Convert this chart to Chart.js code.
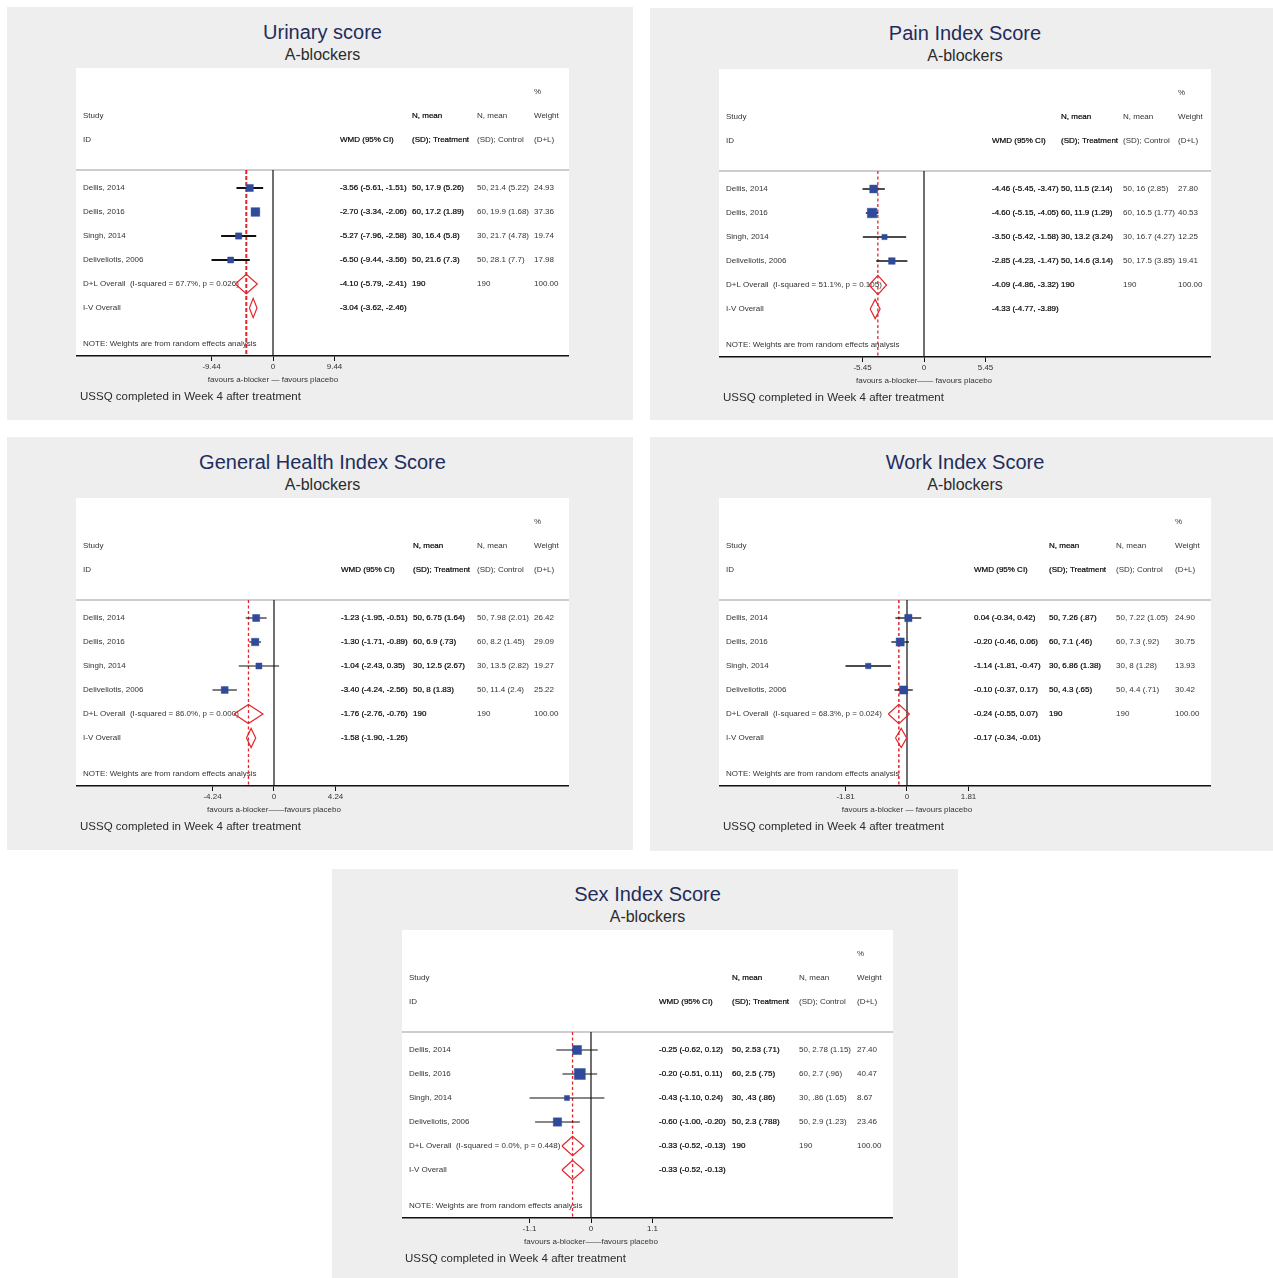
<!DOCTYPE html>
<html>
<head>
<meta charset="utf-8">
<title>USSQ forest plots</title>
<script src="https://cdn.jsdelivr.net/npm/chart.js@4.4.1/dist/chart.umd.min.js"></script>
<style>
  html, body { margin: 0; padding: 0; background: #fff; overflow: hidden; }
  body { position: relative; width: 1273px; height: 1278px; font-family: "Liberation Sans", Arial, sans-serif; }
  .panel { position: absolute; background: #eeeeee; overflow: hidden; }
  .panel h1 { position: absolute; left: 0; right: 0; top: 13px; margin: 0; font-size: 20px; line-height: 24px;
              font-weight: normal; color: #1f2d5c; text-align: center; }
  .panel h2 { position: absolute; left: 0; right: 0; top: 38px; margin: 0; font-size: 16px; line-height: 20px;
              font-weight: normal; color: #2b2b2b; text-align: center; }
  .panel.narrow h1, .panel.narrow h2 { left: 5px; }
  .panel canvas { position: absolute; left: 69px; top: 61px; }
  .panel p { position: absolute; left: 73px; top: 382px; margin: 0; font-size: 11.5px; line-height: 14px; color: #2b2b2b; }
</style>
</head>
<body>

<div class="panel narrow" style="left:7px;top:7px;width:626px;height:413px">
  <h1>Urinary score</h1>
  <h2>A-blockers</h2>
  <canvas id="urinary" width="493" height="328"></canvas>
  <p>USSQ completed in Week 4 after treatment</p>
</div>

<div class="panel" style="left:650px;top:8px;width:630px;height:412px">
  <h1>Pain Index Score</h1>
  <h2>A-blockers</h2>
  <canvas id="pain" width="492" height="328"></canvas>
  <p>USSQ completed in Week 4 after treatment</p>
</div>

<div class="panel narrow" style="left:7px;top:437px;width:626px;height:413px">
  <h1>General Health Index Score</h1>
  <h2>A-blockers</h2>
  <canvas id="general" width="493" height="328"></canvas>
  <p>USSQ completed in Week 4 after treatment</p>
</div>

<div class="panel" style="left:650px;top:437px;width:630px;height:414px">
  <h1>Work Index Score</h1>
  <h2>A-blockers</h2>
  <canvas id="work" width="492" height="328"></canvas>
  <p>USSQ completed in Week 4 after treatment</p>
</div>

<div class="panel narrow" style="left:332px;top:869px;width:626px;height:413px">
  <h1>Sex Index Score</h1>
  <h2>A-blockers</h2>
  <canvas id="sex" width="491" height="328" style="left:70px"></canvas>
  <p>USSQ completed in Week 4 after treatment</p>
</div>

<script>
// studies in every meta-analysis
const studies = ['Dellis, 2014', 'Dellis, 2016', 'Singh, 2014', 'Deliveliotis, 2006'];
const sampleSizes = [50, 60, 30, 50];
const pooledWeight = 100;

// Urinary score
const urinaryWmd = [-3.56, -2.70, -5.27, -6.50];
const urinaryLow = [-5.61, -3.34, -7.96, -9.44];
const urinaryHigh = [-1.51, -2.06, -2.58, -3.56];
const urinaryTreatment = ['17.9 (5.26)', '17.2 (1.89)', '16.4 (5.8)', '21.6 (7.3)'];
const urinaryControl = ['21.4 (5.22)', '19.9 (1.68)', '21.7 (4.78)', '28.1 (7.7)'];
const urinaryWeight = [24.93, 37.36, 19.74, 17.98];
const urinaryDL = [-4.10, -5.79, -2.41];
const urinaryIV = [-3.04, -3.62, -2.46];
const urinaryHet = [67.7, 0.026];
const urinaryTicks = [-9.44, 0, 9.44];

// Pain index
const painWmd = [-4.46, -4.60, -3.50, -2.85];
const painLow = [-5.45, -5.15, -5.42, -4.23];
const painHigh = [-3.47, -4.05, -1.58, -1.47];
const painTreatment = ['11.5 (2.14)', '11.9 (1.29)', '13.2 (3.24)', '14.6 (3.14)'];
const painControl = ['16 (2.85)', '16.5 (1.77)', '16.7 (4.27)', '17.5 (3.85)'];
const painWeight = [27.80, 40.53, 12.25, 19.41];
const painDL = [-4.09, -4.86, -3.32];
const painIV = [-4.33, -4.77, -3.89];
const painHet = [51.1, 0.105];
const painTicks = [-5.45, 0, 5.45];

// General health index
const generalWmd = [-1.23, -1.30, -1.04, -3.40];
const generalLow = [-1.95, -1.71, -2.43, -4.24];
const generalHigh = [-0.51, -0.89, 0.35, -2.56];
const generalTreatment = ['6.75 (1.64)', '6.9 (.73)', '12.5 (2.67)', '8 (1.83)'];
const generalControl = ['7.98 (2.01)', '8.2 (1.45)', '13.5 (2.82)', '11.4 (2.4)'];
const generalWeight = [26.42, 29.09, 19.27, 25.22];
const generalDL = [-1.76, -2.76, -0.76];
const generalIV = [-1.58, -1.90, -1.26];
const generalHet = [86.0, 0.000];
const generalTicks = [-4.24, 0, 4.24];

// Work index
const workWmd = [0.04, -0.20, -1.14, -0.10];
const workLow = [-0.34, -0.46, -1.81, -0.37];
const workHigh = [0.42, 0.06, -0.47, 0.17];
const workTreatment = ['7.26 (.87)', '7.1 (.46)', '6.86 (1.38)', '4.3 (.65)'];
const workControl = ['7.22 (1.05)', '7.3 (.92)', '8 (1.28)', '4.4 (.71)'];
const workWeight = [24.90, 30.75, 13.93, 30.42];
const workDL = [-0.24, -0.55, 0.07];
const workIV = [-0.17, -0.34, -0.01];
const workHet = [68.3, 0.024];
const workTicks = [-1.81, 0, 1.81];

// Sex index
const sexWmd = [-0.25, -0.20, -0.43, -0.60];
const sexLow = [-0.62, -0.51, -1.10, -1.00];
const sexHigh = [0.12, 0.11, 0.24, -0.20];
const sexTreatment = ['2.53 (.71)', '2.5 (.75)', '.43 (.86)', '2.3 (.788)'];
const sexControl = ['2.78 (1.15)', '2.7 (.96)', '.86 (1.65)', '2.9 (1.23)'];
const sexWeight = [27.40, 40.47, 8.67, 23.46];
const sexDL = [-0.33, -0.52, -0.13];
const sexIV = [-0.33, -0.52, -0.13];
const sexHet = [0.0, 0.448];
const sexTicks = [-1.1, 0, 1.1];

Chart.defaults.font.family = '"Liberation Sans", Arial, sans-serif';

// rows are counted from the top of the white plot region, 24px each
const ROWS = 12;
const SEP_ROW = 4.25;
const FIRST_STUDY_ROW = 5;
const BLUE = '#2f4a9b';
const RED = '#e3262b';

const fmt = v => v.toFixed(2);
const ciText = (e, l, h) => fmt(e) + ' (' + fmt(l) + ', ' + fmt(h) + ')';

// draws the table text, the white plot background and the favours caption
const forestText = {
  id: 'forestText',
  beforeDraw(chart) {
    const { ctx, chartArea: a } = chart;
    ctx.save();
    ctx.fillStyle = '#ffffff';
    ctx.fillRect(a.left, a.top, a.right - a.left, a.bottom - a.top);
    ctx.restore();
  },
  beforeDatasetsDraw(chart, args, o) {
    const { ctx, chartArea: a } = chart;
    const y = chart.scales.y;
    const [cWmd, cTrt, cCtl, cWt] = o.cols.map(c => a.left + c);
    const lx = a.left + 7;
    ctx.save();
    ctx.font = '8px "Liberation Sans", Arial, sans-serif';
    ctx.textBaseline = 'middle';
    ctx.textAlign = 'left';
    ctx.lineWidth = 0.2;
    // dark columns get a hairline stroke so they read heavier
    const put = (t, x, row, dark) => {
      const py = y.getPixelForValue(row);
      ctx.fillStyle = dark ? '#000000' : '#333333';
      ctx.fillText(t, x, py);
      if (dark) {
        ctx.strokeStyle = '#000000';
        ctx.strokeText(t, x, py);
      }
    };
    // headers
    put('%', cWt, 1, false);
    put('Study', lx, 2, false);
    put('N, mean', cTrt, 2, true);
    put('N, mean', cCtl, 2, false);
    put('Weight', cWt, 2, false);
    put('ID', lx, 3, false);
    put('WMD (95% CI)', cWmd, 3, true);
    put('(SD); Treatment', cTrt, 3, true);
    put('(SD); Control', cCtl, 3, false);
    put('(D+L)', cWt, 3, false);
    // studies
    const d = o.data;
    studies.forEach((s, i) => {
      const r = FIRST_STUDY_ROW + i;
      put(s, lx, r, false);
      put(ciText(d.wmd[i], d.low[i], d.high[i]), cWmd, r, true);
      put(sampleSizes[i] + ', ' + d.treatment[i], cTrt, r, true);
      put(sampleSizes[i] + ', ' + d.control[i], cCtl, r, false);
      put(fmt(d.weight[i]), cWt, r, false);
    });
    const total = String(sampleSizes.reduce((s, n) => s + n, 0));
    const rDL = FIRST_STUDY_ROW + studies.length;
    put('D+L Overall  (I-squared = ' + d.het[0].toFixed(1) + '%, p = ' + d.het[1].toFixed(3) + ')', lx, rDL, false);
    put(ciText(d.dl[0], d.dl[1], d.dl[2]), cWmd, rDL, true);
    put(total, cTrt, rDL, true);
    put(total, cCtl, rDL, false);
    put(fmt(pooledWeight), cWt, rDL, false);
    put('I-V Overall', lx, rDL + 1, false);
    put(ciText(d.iv[0], d.iv[1], d.iv[2]), cWmd, rDL + 1, true);
    put('NOTE: Weights are from random effects analysis', lx, ROWS - 0.5, false);
    ctx.restore();
  },
  afterDraw(chart, args, o) {
    const { ctx, chartArea: a } = chart;
    ctx.save();
    ctx.font = '8px "Liberation Sans", Arial, sans-serif';
    ctx.fillStyle = '#333333';
    ctx.textAlign = 'center';
    ctx.textBaseline = 'middle';
    ctx.fillText(o.favours, chart.scales.x.getPixelForValue(0), a.bottom + 24);
    ctx.restore();
  }
};

function line(points, color, width, dash, order) {
  return {
    data: points, showLine: true, borderColor: color, borderWidth: width,
    borderDash: dash || [], pointRadius: 0, fill: false, tension: 0, order: order
  };
}

function diamond(est, lo, hi, row) {
  return [
    { x: lo, y: row }, { x: est, y: row - 0.4 }, { x: hi, y: row },
    { x: est, y: row + 0.4 }, { x: lo, y: row }
  ];
}

function forest(id, d, lay) {
  const canvas = document.getElementById(id);
  const width = canvas.width;
  const tickMax = d.ticks[d.ticks.length - 1];
  const pxPerUnit = 61.5 / tickMax;
  const xMin = -lay.zero / pxPerUnit;
  const xMax = (width - lay.zero) / pxPerUnit;
  const rows = studies.map((s, i) => FIRST_STUDY_ROW + i);
  const rDL = FIRST_STUDY_ROW + studies.length;

  const datasets = [];
  // study boxes, area proportional to weight
  datasets.push({
    data: d.wmd.map((v, i) => ({ x: v, y: rows[i] })),
    pointStyle: 'rect',
    pointRadius: d.weight.map(w => lay.box * Math.sqrt(w) / (2 * Math.SQRT1_2)),
    backgroundColor: BLUE, borderColor: 'rgba(47,74,155,0.55)', borderWidth: 0.8,
    showLine: false, order: 1
  });
  // confidence intervals
  d.wmd.forEach((v, i) => {
    datasets.push(line([{ x: d.low[i], y: rows[i] }, { x: d.high[i], y: rows[i] }], '#111111', lay.ci, null, 2));
  });
  // pooled estimates
  datasets.push(line(diamond(d.dl[0], d.dl[1], d.dl[2], rDL), RED, 1.2, null, 0));
  datasets.push(line(diamond(d.iv[0], d.iv[1], d.iv[2], rDL + 1), RED, 1.2, null, 0));
  // overall effect and no-effect lines, header rule
  datasets.push(line([{ x: d.dl[0], y: SEP_ROW }, { x: d.dl[0], y: ROWS }], RED, lay.dashWidth, lay.dash, 3));
  datasets.push(line([{ x: 0, y: SEP_ROW }, { x: 0, y: ROWS }], '#111111', 1.2, null, 4));
  datasets.push(line([{ x: xMin, y: SEP_ROW }, { x: xMax, y: SEP_ROW }], '#bdbdbd', 1.5, null, 5));

  new Chart(canvas, {
    type: 'scatter',
    data: { datasets: datasets },
    options: {
      responsive: false,
      animation: false,
      events: [],
      layout: { padding: 0, autoPadding: false },
      plugins: {
        legend: { display: false },
        tooltip: { enabled: false },
        forestText: { data: d, cols: lay.cols, favours: lay.favours }
      },
      scales: {
        x: {
          type: 'linear', position: 'bottom', min: xMin, max: xMax, bounds: 'data',
          border: { display: true, color: '#111111', width: 1.5 },
          grid: { drawOnChartArea: false, drawTicks: true, tickLength: 5, color: '#111111', lineWidth: 1 },
          ticks: {
            font: { size: 8 }, color: '#333333', padding: 1, maxRotation: 0, autoSkip: false,
            callback: (value, index) => String(d.ticks[index])
          },
          afterBuildTicks: axis => { axis.ticks = d.ticks.map(v => ({ value: v })); },
          afterFit: axis => { axis.height = 40; }
        },
        y: { display: false, min: 0, max: ROWS, reverse: true }
      }
    },
    plugins: [forestText]
  });
}

forest('urinary', {
  wmd: urinaryWmd, low: urinaryLow, high: urinaryHigh, treatment: urinaryTreatment, control: urinaryControl,
  weight: urinaryWeight, dl: urinaryDL, iv: urinaryIV, het: urinaryHet, ticks: urinaryTicks
}, { zero: 197, box: 1.42, ci: 2, dashWidth: 2, dash: [4, 2], cols: [264, 336, 401, 458],
     favours: 'favours a-blocker \u2014 favours placebo' });

forest('pain', {
  wmd: painWmd, low: painLow, high: painHigh, treatment: painTreatment, control: painControl,
  weight: painWeight, dl: painDL, iv: painIV, het: painHet, ticks: painTicks
}, { zero: 205, box: 1.5, ci: 1.5, dashWidth: 1.3, dash: [3, 2.5], cols: [273, 342, 404, 459],
     favours: 'favours a-blocker\u2014\u2014 favours placebo' });

forest('general', {
  wmd: generalWmd, low: generalLow, high: generalHigh, treatment: generalTreatment, control: generalControl,
  weight: generalWeight, dl: generalDL, iv: generalIV, het: generalHet, ticks: generalTicks
}, { zero: 198, box: 1.38, ci: 1.1, dashWidth: 1.3, dash: [3, 2.5], cols: [265, 337, 401, 458],
     favours: 'favours a-blocker\u2014\u2014favours placebo' });

forest('work', {
  wmd: workWmd, low: workLow, high: workHigh, treatment: workTreatment, control: workControl,
  weight: workWeight, dl: workDL, iv: workIV, het: workHet, ticks: workTicks
}, { zero: 188, box: 1.47, ci: 1.3, dashWidth: 1.5, dash: [3, 2.5], cols: [255, 330, 397, 456],
     favours: 'favours a-blocker \u2014 favours placebo' });

forest('sex', {
  wmd: sexWmd, low: sexLow, high: sexHigh, treatment: sexTreatment, control: sexControl,
  weight: sexWeight, dl: sexDL, iv: sexIV, het: sexHet, ticks: sexTicks
}, { zero: 189, box: 1.73, ci: 1.1, dashWidth: 1.3, dash: [3, 2.5], cols: [257, 330, 397, 455],
     favours: 'favours a-blocker\u2014\u2014favours placebo' });
</script>
</body>
</html>
